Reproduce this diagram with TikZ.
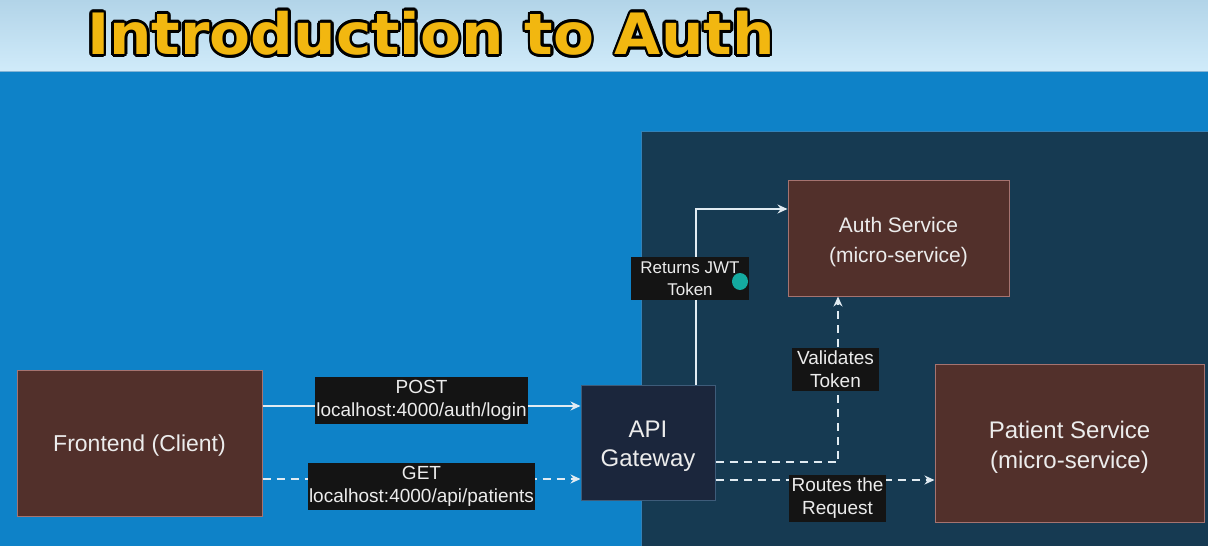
\documentclass[tikz,border=0pt]{standalone}
\usepackage{fontspec}
\setmainfont{Liberation Sans}
\newfontfamily\titlefont{DejaVu Sans}
\usetikzlibrary{arrows.meta,calc}
\definecolor{bandtop}{RGB}{178,212,232}
\definecolor{bandbot}{RGB}{208,235,250}
\definecolor{mainblue}{RGB}{14,130,200}
\definecolor{panel}{RGB}{22,58,82}
\definecolor{panelline}{RGB}{50,130,185}
\definecolor{boxfill}{RGB}{82,48,43}
\definecolor{boxline}{RGB}{165,115,112}
\definecolor{apifill}{RGB}{27,38,60}
\definecolor{apiline}{RGB}{62,92,122}
\definecolor{txt}{RGB}{236,236,236}
\definecolor{wire}{RGB}{225,235,242}
\definecolor{titleyellow}{RGB}{242,183,16}
\definecolor{teal}{RGB}{20,170,160}
\begin{document}
\begin{tikzpicture}[x=1pt,y=-1pt,
  box/.style={draw=boxline, fill=boxfill, line width=1pt, inner sep=0pt},
  apibox/.style={draw=apiline, fill=apifill, line width=1pt, inner sep=0pt},
  boxtext/.style={text=txt, align=center, inner sep=0pt},
  lbl/.style={fill=black!92, text=txt, align=center, inner xsep=1pt, inner ysep=3.5pt,
     font=\fontsize{19}{23}\selectfont},
  conn/.style={draw=wire, line width=1.3pt, -{Stealth[length=10pt,width=9pt]}},
  dconn/.style={conn, dash pattern=on 8pt off 6pt},
  ttl/.style={anchor=base west, inner sep=0pt, font=\titlefont\bfseries\fontsize{57}{58}\selectfont}]
\useasboundingbox (0,0) rectangle (1208,546);
% backgrounds
\shade[top color=bandtop, bottom color=bandbot] (0,0) rectangle (1208,71);
\fill[mainblue] (0,71) rectangle (1208,546);
\draw[panelline!60!white, line width=1pt] (0,71.5) -- (1208,71.5);
\filldraw[fill=panel, draw=panelline, line width=1pt] (641,131) rectangle (1212,550);
% title
\foreach \a in {0,20,...,340}
  \node[ttl, text=black] (tc\a) at ($(87,54.5)+(\a:2.6)$) {\scalebox{1.047}[1]{Introduction to Auth}};
\node[ttl, text=titleyellow] (title) at (87,54.5) {\scalebox{1.047}[1]{Introduction to Auth}};
% nodes
\node[box, minimum width=245pt, minimum height=146pt] (front) at (139.5,443) {};
\node[boxtext, font=\fontsize{23}{29}\selectfont] (fronttext) at ($(front)+(0,3)$) {Frontend (Client)};
\node[apibox, minimum width=134pt, minimum height=115pt] (api) at (648,442.5) {};
\node[boxtext, font=\fontsize{24}{29}\selectfont] (apitext) at ($(api)+(0,4)$) {API\\Gateway};
\node[box, minimum width=221pt, minimum height=116pt] (auth) at (898.5,238) {};
\node[boxtext, font=\fontsize{21}{30}\selectfont] (authtext) at ($(auth)+(0,4)$) {Auth Service\\(micro-service)};
\node[box, minimum width=269pt, minimum height=158pt] (patient) at (1069.5,443) {};
\node[boxtext, font=\fontsize{24}{30}\selectfont] (patienttext) at ($(patient)+(0,4)$) {Patient Service\\(micro-service)};
% connectors
\draw[conn] ($(front.east)+(0,-37)$) -- ($(api.west)+(0,-36.5)$);
\draw[dconn] ($(front.east)+(0,36)$) -- ($(api.west)+(0,36.5)$);
\draw[conn] ($(api.north)+(48,0)$) |- ($(auth.west)+(0,-29)$);
\draw[dconn] ($(api.east)+(0,19.5)$) -| ($(auth.south)+(-60.5,0)$);
\draw[dconn] ($(api.east)+(0,37.5)$) -- ($(patient.west)+(0,37)$);
% labels
\node[lbl] (lpost) at (421.5,400.5) {POST\\localhost:4000/auth/login};
\node[lbl] (lget) at (421.5,486.5) {GET\\localhost:4000/api/patients};
\node[lbl, font=\fontsize{17}{22}\selectfont, inner xsep=9pt, inner ysep=4.5pt] (ljwt) at (690,278.5) {Returns JWT\\Token};
\node[lbl, inner xsep=5pt] (lval) at (835.5,369.5) {Validates\\Token};
\node[lbl, inner xsep=3pt] (lroute) at (837.5,498.5) {Routes the\\Request};
\fill[teal] (740,281.5) ellipse (8pt and 8.5pt);
\end{tikzpicture}
\end{document}
